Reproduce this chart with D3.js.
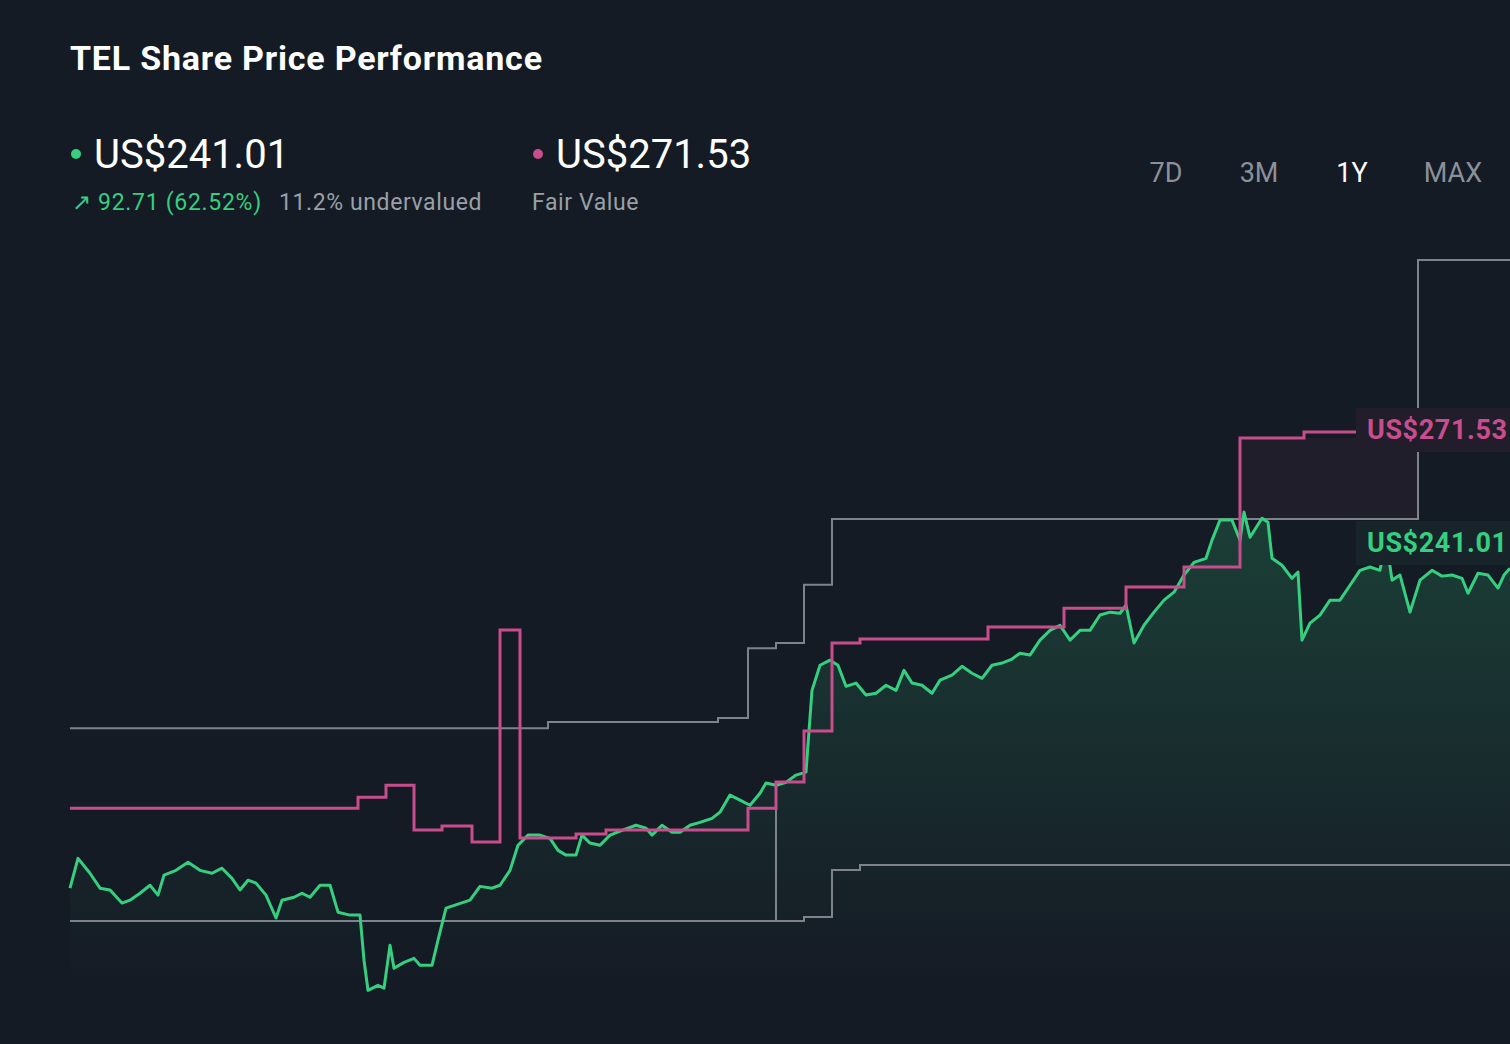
<!DOCTYPE html>
<html lang="en">
<head>
<meta charset="UTF-8">
<title>TEL Share Price Performance</title>
<style>
  body { margin: 0; background: #151b25; }
  svg { display: block; font-family: Roboto, "Noto Sans", sans-serif; }
</style>
</head>
<body>
<svg id="chart" width="1510" height="1044"></svg>
<script src="https://d3js.org/d3.v7.min.js"></script>
<script>
// day offsets over the 1Y window, share price (US$)
var priceDays = [0,2,5,7.5,10,13,15,17.5,20,22,23.5,26.5,29.5,32.5,35.5,38,40.5,42.5,44.5,46.5,49,51.5,53,56,58,60,62.5,65,67,70,72.5,73.5,74.5,77,78.5,80,81,83.5,86,87.5,90.5,92,94,97,100,102.5,105.5,107.5,110,112,114.5,117.5,120,122,124,126.5,128,130,132.5,135,138,141.5,144,145.5,148,150.5,152.5,155,157.5,160.5,162.5,165,167.5,170,172.5,174,176.5,179,181.5,184,185.5,187.5,190,192,194,196.5,199,201.5,204,206.5,208.5,210.5,213,215.5,217.5,220.5,223,225.5,228,230.5,233,235.5,237.5,240,242.5,245,247.5,250,252.5,255,257.5,260,262.5,264,266,268.5,271,273.5,276,278.5,281,284,285.5,287.5,290.5,292.5,293.5,295,298,299.5,300.5,303,305.5,307,308,310,312.5,315,317.5,320,322.5,325,327.5,329,330.5,332.5,335,337.5,340.5,343,345.5,348,349.5,352,354.5,357,358.5,360];
var priceValues = [146.1,154.3,150.2,146.1,145.6,142.0,142.8,144.7,146.9,144.2,149.7,151.0,153.2,151.0,150.2,151.6,148.8,145.6,148.3,147.5,144.2,137.9,142.8,143.6,144.7,143.6,146.9,146.9,139.5,138.7,138.7,126.3,118.0,119.4,118.6,130.4,124.1,125.7,126.8,124.9,124.9,131.8,140.6,141.7,142.8,146.6,146.1,146.9,151.0,157.9,160.7,160.7,159.8,156.5,155.2,155.2,160.7,158.5,157.9,160.7,162.0,163.4,162.6,160.7,163.4,161.5,161.5,163.4,164.2,165.3,167.0,171.7,170.3,168.9,172.2,175.0,174.4,175.2,177.2,178.0,200.5,207.4,208.8,207.4,201.6,202.5,199.2,199.7,201.9,200.5,206.0,202.5,201.9,199.7,203.3,204.7,207.1,205.2,203.8,207.4,208.0,209.1,210.7,210.2,214.3,217.0,218.4,214.3,217.0,217.0,221.2,222.0,221.7,223.9,213.5,218.4,222.0,225.3,227.5,232.2,235.7,236.8,241.8,247.3,247.3,241.8,249.5,242.6,247.8,246.7,236.8,234.9,231.3,233.0,214.3,219.0,221.2,225.3,225.3,229.4,233.5,234.4,233.5,242.3,230.8,232.2,222.0,230.8,233.5,231.9,232.2,231.3,227.2,232.7,232.2,228.6,232.2,234.1];

// fair value steps
var fairDays   = [0,72,79,86,93,100.5,107.5,112.5,126.5,134,169.5,176.5,183.5,190.5,197.5,229.5,248.5,264,278.5,292.5,308.5,321.5];
var fairValues = [168.1,171.1,174.4,162.1,163.2,158.8,217.1,159.9,161.0,162.1,168.1,175.3,189.3,213.5,214.6,217.9,223.1,228.9,234.4,269.9,271.5,271.5];

// analyst high / low target steps
var highDays   = [0,119.5,162,169.5,176.5,183.5,190.5,337,360];
var highValues = [190.1,191.8,192.9,212.1,213.5,229.5,247.6,318.8,318.8];
var lowDays    = [0,183.5,190.5,197.5,360];
var lowValues  = [137.1,138.2,151.1,152.5,152.5];
var jumpDays   = [176.5,176.5];
var jumpValues = [137.1,175.3];

var ranges = ["7D","3M","1Y","MAX"];
var lastPrice = "US$241.01", fairLabel = "US$271.53";

var green = "#35cf7f", pink = "#c84d8c", grey = "#7d828b";
var svg = d3.select("#chart");

var x = d3.scaleLinear().domain([0,360]).range([70,1510]);
var y = d3.scaleLinear().domain([241.01,271.53]).range([543,432]);

function zip(a,b){ return a.map(function(d,i){ return [d,b[i]]; }); }
var price = zip(priceDays, priceValues);
var fair = zip(fairDays, fairValues);

// fill fades out towards the bottom
var grad = svg.append("defs").append("linearGradient").attr("id","fill")
   .attr("gradientUnits","userSpaceOnUse").attr("x1",0).attr("y1",510).attr("x2",0).attr("y2",980);
grad.append("stop").attr("offset","0%").attr("stop-color",green).attr("stop-opacity",0.2);
grad.append("stop").attr("offset","100%").attr("stop-color",green).attr("stop-opacity",0);

// fair value shaded band
svg.append("rect")
   .attr("x", x(292.5)).attr("y", y(269.9))
   .attr("width", x(337)-x(292.5)).attr("height", y(247.6)-y(269.9))
   .attr("fill","rgba(200,77,140,0.06)");

svg.append("path").datum(price)
   .attr("d", d3.area().x(function(d){return x(d[0]);}).y0(1044).y1(function(d){return y(d[1]);}))
   .attr("fill","url(#fill)");

var step = d3.line().x(function(d){return x(d[0]);}).y(function(d){return y(d[1]);}).curve(d3.curveStepAfter);
[zip(highDays,highValues), zip(lowDays,lowValues), zip(jumpDays,jumpValues)].forEach(function(s){
  svg.append("path").datum(s).attr("d",step).attr("fill","none").attr("stroke",grey).attr("stroke-width",2);
});

svg.append("path").datum(price)
   .attr("d", d3.line().x(function(d){return x(d[0]);}).y(function(d){return y(d[1]);}))
   .attr("fill","none").attr("stroke",green).attr("stroke-width",3).attr("stroke-linejoin","round");

svg.append("path").datum(fair).attr("d",step)
   .attr("fill","none").attr("stroke",pink).attr("stroke-width",3);

// end labels
svg.append("rect").attr("x",1356).attr("y",y(271.53)-24).attr("width",160).attr("height",44).attr("fill","#221d2b");
svg.append("text").attr("x",1367).attr("y",y(271.53)+7).attr("fill",pink)
   .attr("font-size",27).attr("font-weight",700).attr("letter-spacing",0.6).text(fairLabel);
svg.append("rect").attr("x",1356).attr("y",y(241.01)-22).attr("width",160).attr("height",44).attr("fill","#17252a");
svg.append("text").attr("x",1367).attr("y",y(241.01)+9).attr("fill",green)
   .attr("font-size",27).attr("font-weight",700).attr("letter-spacing",0.6).text(lastPrice);

// header
svg.append("text").attr("x",70).attr("y",70).attr("fill","#fff").attr("font-size",34).attr("font-weight",700)
   .attr("textLength",472).text("TEL Share Price Performance");
svg.append("circle").attr("cx",76).attr("cy",154).attr("r",5).attr("fill",green);
svg.append("text").attr("x",94).attr("y",168).attr("fill","#fff").attr("font-size",40).text(lastPrice);
svg.append("text").attr("x",72).attr("y",210).attr("fill",green).attr("font-size",23).attr("letter-spacing",0.7).text("↗ 92.71 (62.52%)");
svg.append("text").attr("x",279).attr("y",210).attr("fill","#9aa0a8").attr("font-size",23).attr("letter-spacing",0.6).text("11.2% undervalued");
svg.append("circle").attr("cx",538).attr("cy",154).attr("r",5).attr("fill",pink);
svg.append("text").attr("x",556).attr("y",168).attr("fill","#fff").attr("font-size",40).text(fairLabel);
svg.append("text").attr("x",532).attr("y",210).attr("fill","#9aa0a8").attr("font-size",23).attr("letter-spacing",0.6).text("Fair Value");

var btnX = [1166,1259,1352,1453];
svg.selectAll(".range").data(ranges).enter().append("text")
   .attr("x",function(d,i){return btnX[i];}).attr("y",182).attr("text-anchor","middle")
   .attr("font-size",27).attr("fill",function(d){return d==="1Y" ? "#fff" : "#8b9099";})
   .text(function(d){return d;});
</script>
</body>
</html>
